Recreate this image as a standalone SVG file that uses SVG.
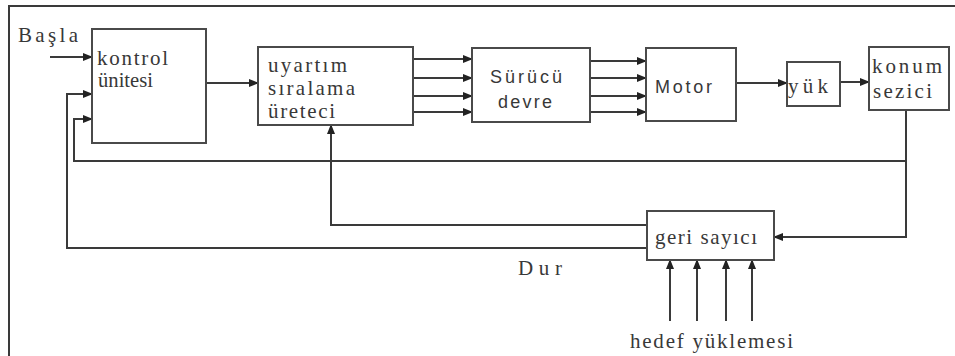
<svg xmlns="http://www.w3.org/2000/svg" width="955" height="356" viewBox="0 0 955 356">
<style>
.box{fill:#fff;stroke:#4a4a4a;stroke-width:2}
.ln{fill:none;stroke:#3a3a3a;stroke-width:2}
.ar{marker-end:url(#ah)}
.t{font-family:"Liberation Serif",serif;font-size:21px;fill:#383838}
.s{font-family:"Liberation Sans",sans-serif;font-size:18px;fill:#383838}
</style>
<defs>
<marker id="ah" markerUnits="userSpaceOnUse" markerWidth="10" markerHeight="8" refX="9" refY="4" orient="auto">
<path d="M0,0 L10,4 L0,8 z" fill="#222"/>
</marker>
</defs>
<rect width="955" height="356" fill="#fff"/>
<g id="frame">
<path class="ln" d="M9,356 V6 H955" stroke="#222"/>
</g>
<g id="connectors">
<path class="ln ar" d="M50,57 H92"/>
<path class="ln ar" d="M647,248 H67 V94 H92"/>
<path class="ln ar" d="M906,110 V161 H74 V119 H92"/>
<path class="ln ar" d="M206,83 H258"/>
<path class="ln ar" d="M413,59 H472"/>
<path class="ln ar" d="M413,78 H472"/>
<path class="ln ar" d="M413,96 H472"/>
<path class="ln ar" d="M413,112 H472"/>
<path class="ln ar" d="M590,61 H646"/>
<path class="ln ar" d="M590,78 H646"/>
<path class="ln ar" d="M590,96 H646"/>
<path class="ln ar" d="M590,112 H646"/>
<path class="ln ar" d="M736,83 H787"/>
<path class="ln ar" d="M840,82 H869"/>
<path class="ln ar" d="M906,161 V237 H774"/>
<path class="ln ar" d="M647,225 H331 V125"/>
<path class="ln ar" d="M670,321 V260"/>
<path class="ln ar" d="M697,321 V260"/>
<path class="ln ar" d="M726,321 V260"/>
<path class="ln ar" d="M752,321 V260"/>
</g>
<g id="basla"><text class="t" x="18" y="42" textLength="60" lengthAdjust="spacing">Başla</text></g>
<g id="kontrol">
<rect class="box" x="92" y="29" width="114" height="114"/>
<text class="t" x="97" y="65" textLength="71" lengthAdjust="spacing">kontrol</text>
<text class="t" x="98" y="87" textLength="55" lengthAdjust="spacingAndGlyphs">ünitesi</text>
</g>
<g id="uyartim">
<rect class="box" x="258" y="47" width="155" height="78"/>
<text class="t" x="268" y="72" textLength="79" lengthAdjust="spacing">uyartım</text>
<text class="t" x="268" y="95" textLength="87" lengthAdjust="spacing">sıralama</text>
<text class="t" x="268" y="118" textLength="67" lengthAdjust="spacing">üreteci</text>
</g>
<g id="surucu">
<rect class="box" x="472" y="48" width="118" height="74"/>
<text class="s" x="490" y="83" textLength="72" lengthAdjust="spacing">Sürücü</text>
<text class="s" x="498" y="108" textLength="54" lengthAdjust="spacing">devre</text>
</g>
<g id="motor">
<rect class="box" x="646" y="48" width="90" height="73"/>
<text class="s" x="655" y="93" textLength="57" lengthAdjust="spacing" font-size="16">Motor</text>
</g>
<g id="yuk">
<rect class="box" x="787" y="62" width="53" height="44"/>
<text class="t" x="788" y="93" textLength="40" lengthAdjust="spacing">yük</text>
</g>
<g id="konum">
<rect class="box" x="869" y="47" width="80" height="63"/>
<text class="t" x="872" y="73" textLength="70" lengthAdjust="spacing">konum</text>
<text class="t" x="873" y="98" textLength="59" lengthAdjust="spacing">sezici</text>
</g>
<g id="geri">
<rect class="box" x="647" y="211" width="127" height="49"/>
<text class="t" x="655" y="244" textLength="102" lengthAdjust="spacing">geri sayıcı</text>
</g>
<g id="dur"><text class="t" x="518" y="275" textLength="44" lengthAdjust="spacing">Dur</text></g>
<g id="hedef"><text class="t" x="630" y="348" textLength="163" lengthAdjust="spacing">hedef yüklemesi</text></g>
</svg>
